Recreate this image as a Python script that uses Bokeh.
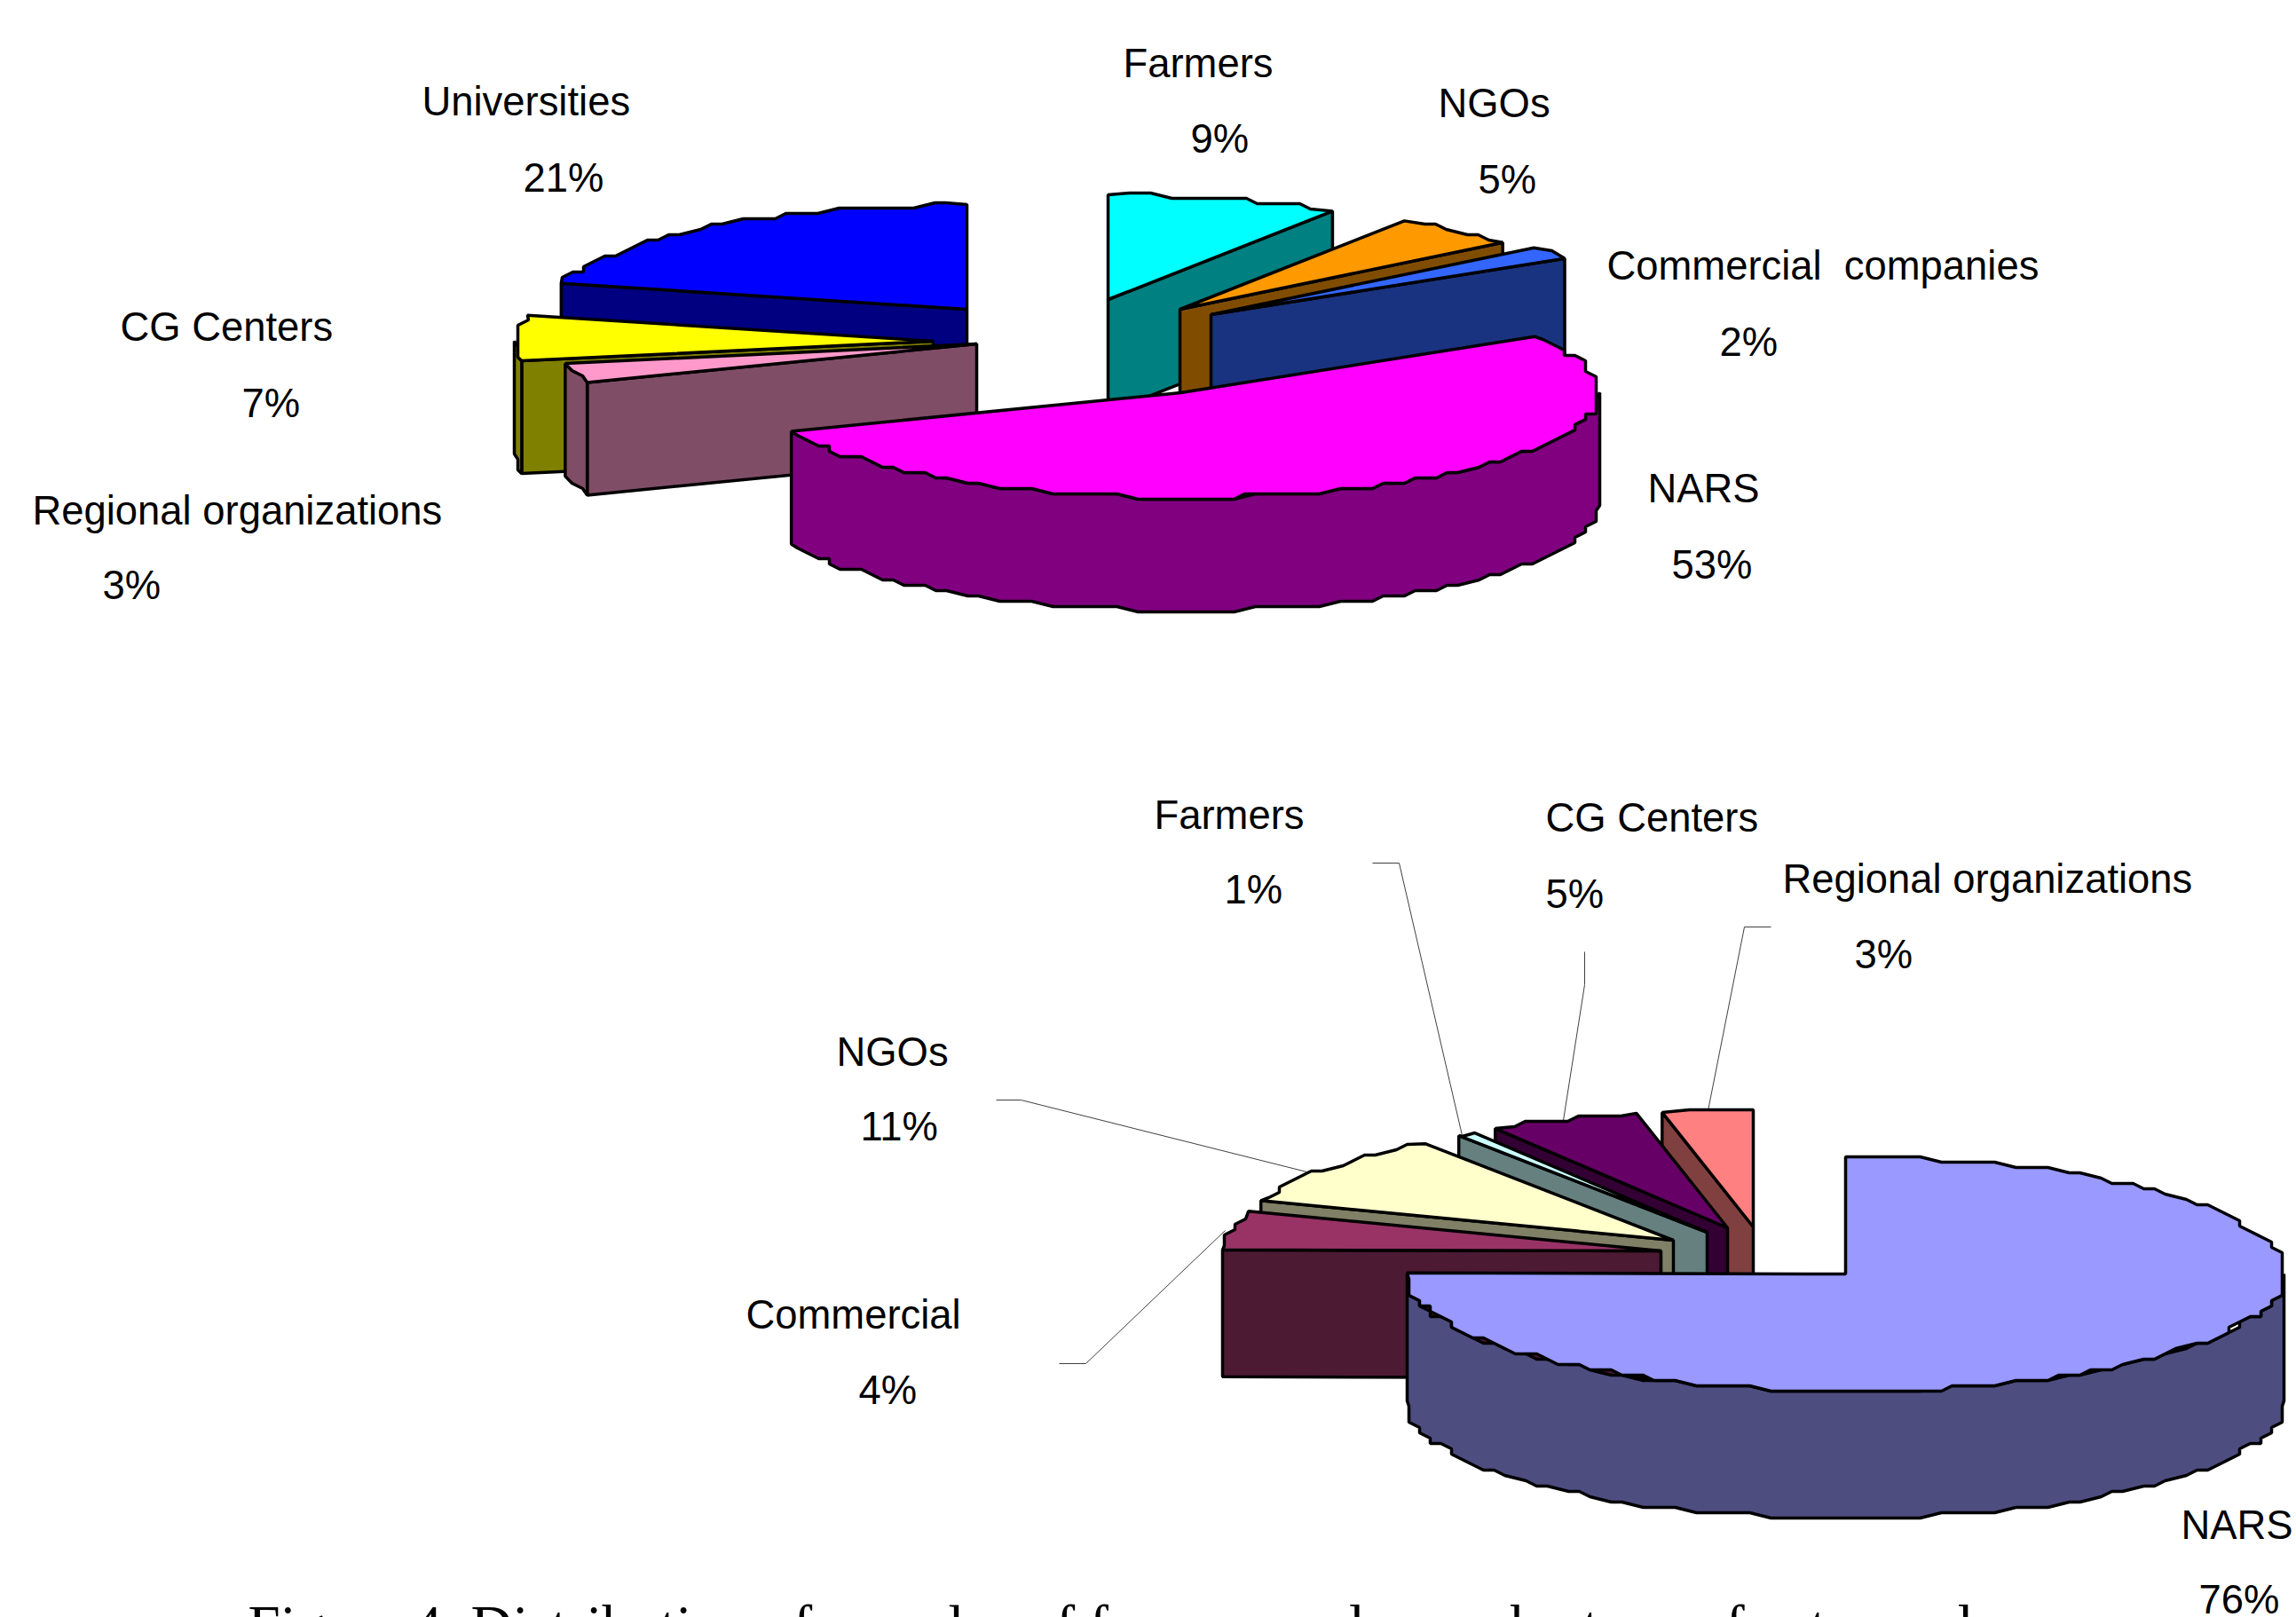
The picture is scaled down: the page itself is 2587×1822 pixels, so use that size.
import math
from bokeh.plotting import figure
from bokeh.models import Range1d, ColumnDataSource
from bokeh.core.properties import value
from bokeh.embed import file_html
from bokeh.resources import INLINE

# ---- data -------------------------------------------------------------
cats_a = ["Farmers", "NGOs", "Commercial \u00a0companies", "NARS", "Regional organizations", "CG Centers", "Universities"]
vals_a = [9, 5, 2, 53, 3, 7, 21]
cats_b = ["NARS", "Commercial", "NGOs", "Farmers", "CG Centers", "Regional organizations"]
vals_b = [76, 4, 11, 1, 5, 3]
caption = "Figure 4. Distribution of samples of farmers and users by type of actor and"

# ---- styles ------------------------------------------------------------
top_a = ["#00FFFF", "#FF9900", "#3366FF", "#FF00FF", "#FF99CC", "#FFFF00", "#0000FF"]
wall_a = ["#008080", "#804D00", "#1A3380", "#800080", "#804D66", "#808000", "#000080"]
top_b = ["#9999FF", "#993366", "#FFFFCC", "#CCFFFF", "#660066", "#FF8080"]
wall_b = ["#4D4D80", "#4D1A33", "#808066", "#668080", "#330033", "#804040"]

# ---- layout (page pixels) ----------------------------------------------
W, H = 2587, 1822
geom_a = dict(cx=1330, cy=442, rx=472, ry=118, depth=127)
geom_b = dict(cx=2079, cy=1435, rx=494, ry=132, depth=143)
offs_a = [(-82, -105), (-1, -94), (34, -88), (0, 0), (-230, -55), (-279, -58), (-241, -94)]
offs_b = [(0, 0), (-208, -26), (-194, -38), (-156, -47), (-133, -52), (-104, -53)]
# perspective of the drawn pie: shift of each slice's end angle, in degrees
warp_a = [0, 0, 0, 0, 0, 0, 0]
warp_b = [-3.1, 1.8, -2.1, -3.2, -1.2, 0]
order_a = [6, 5, 4, 0, 1, 2, 3]
order_b = [5, 4, 3, 2, 1, 0]
label_a = [(1265, 87, 1341, 172), (1620, 132, 1665, 218), (1810, 315, 1937, 401),
           (1856, 566, 1883, 652), (36, 591, 115, 675), (135, 384, 272, 470), (475, 130, 589, 216)]
label_b = [(2457, 1734, 2477, 1818), (840, 1497, 967, 1582), (942, 1201, 969, 1285),
           (1300, 934, 1379, 1018), (1741, 937, 1741, 1023), (2008, 1006, 2089, 1091)]
leaders = [[(1546, 972), (1576, 972), (1647, 1279)],
           [(1785, 1072), (1785, 1109), (1761, 1262)],
           [(1995, 1044), (1965, 1044), (1924, 1251)],
           [(1122, 1239), (1150, 1239), (1480, 1322)],
           [(1193, 1536), (1223, 1536), (1380, 1386)]]
GRID_X, GRID_Y, STEP = 12, 6, 2.5
TEXT_DY = -16


def arc(g, off, a0, a1):
    """Rim of a slice, sampled coarsely and snapped, giving the stepped edge of the original."""
    ax, ay = g["cx"] + off[0], g["cy"] + off[1]
    n = max(2, int(abs(a1 - a0) / STEP))
    pts = []
    for i in range(n + 1):
        t = math.radians(a0 + (a1 - a0) * i / n)
        dx, dy = g["rx"] * math.cos(t), g["ry"] * math.sin(t)
        if 0 < i < n:
            dx, dy = round(dx / GRID_X) * GRID_X, round(dy / GRID_Y) * GRID_Y
        q = (ax + dx, ay + dy)
        if not pts or q != pts[-1]:
            pts.append(q)
    return pts


def polys(vals, warp, g, offs, order, tops, walls):
    angles, a, prev = [], -90.0, -90.0
    for v, w in zip(vals, warp):
        a += v * 3.6
        angles.append((prev, a + w))
        prev = a + w
    out = []
    for k in order:
        a0, a1 = angles[k]
        off = offs[k]
        ax, ay = g["cx"] + off[0], g["cy"] + off[1]
        d = g["depth"]
        rim = arc(g, off, a0, a1)
        if math.cos(math.radians(a0)) < -1e-6:
            s = rim[0]
            out.append(([ax, s[0], s[0], ax], [ay, s[1], s[1] + d, ay + d], walls[k]))
        if math.cos(math.radians(a1)) > 1e-6:
            s = rim[-1]
            out.append(([ax, s[0], s[0], ax], [ay, s[1], s[1] + d, ay + d], walls[k]))
        # outer wall: part of the rim that faces the viewer
        for base in (-360, 0, 360):
            lo, hi = max(a0, base), min(a1, base + 180)
            if hi > lo:
                w = arc(g, off, lo, hi)
                xs = [q[0] for q in w] + [q[0] for q in reversed(w)]
                ys = [q[1] for q in w] + [q[1] + d for q in reversed(w)]
                out.append((xs, ys, walls[k]))
        out.append(([ax] + [q[0] for q in rim], [ay] + [q[1] for q in rim], tops[k]))
    return out


p = figure(width=W, height=H, output_backend="svg", toolbar_location=None,
           x_range=Range1d(0, W), y_range=Range1d(H, 0), min_border=0)
p.axis.visible = False
p.grid.visible = False
p.outline_line_color = None

for line in leaders:
    p.line([q[0] for q in line], [q[1] for q in line], line_color="#404040", line_width=1)

shapes = polys(vals_a, warp_a, geom_a, offs_a, order_a, top_a, wall_a) + \
         polys(vals_b, warp_b, geom_b, offs_b, order_b, top_b, wall_b)
src = ColumnDataSource(dict(xs=[s[0] for s in shapes], ys=[s[1] for s in shapes], c=[s[2] for s in shapes]))
p.patches("xs", "ys", source=src, fill_color="c", line_color="black", line_width=3.5)

tx, ty, tt = [], [], []
for cats, vals, labs in ((cats_a, vals_a, label_a), (cats_b, vals_b, label_b)):
    for c, v, l in zip(cats, vals, labs):
        tx += [l[0], l[2]]
        ty += [l[1] + TEXT_DY, l[3] + TEXT_DY]
        tt += [c, f"{v}%"]
p.text(tx, ty, text=tt, text_font=value("Liberation Sans"), text_font_size="45.4px",
       text_baseline="alphabetic", text_align="left", text_color="black")
p.text([279], [1831], text=[caption], text_font=value("Liberation Serif"), text_font_size="65px",
       text_baseline="alphabetic", text_align="left", text_color="black")

open("out.html", "w").write(file_html(p, INLINE))
